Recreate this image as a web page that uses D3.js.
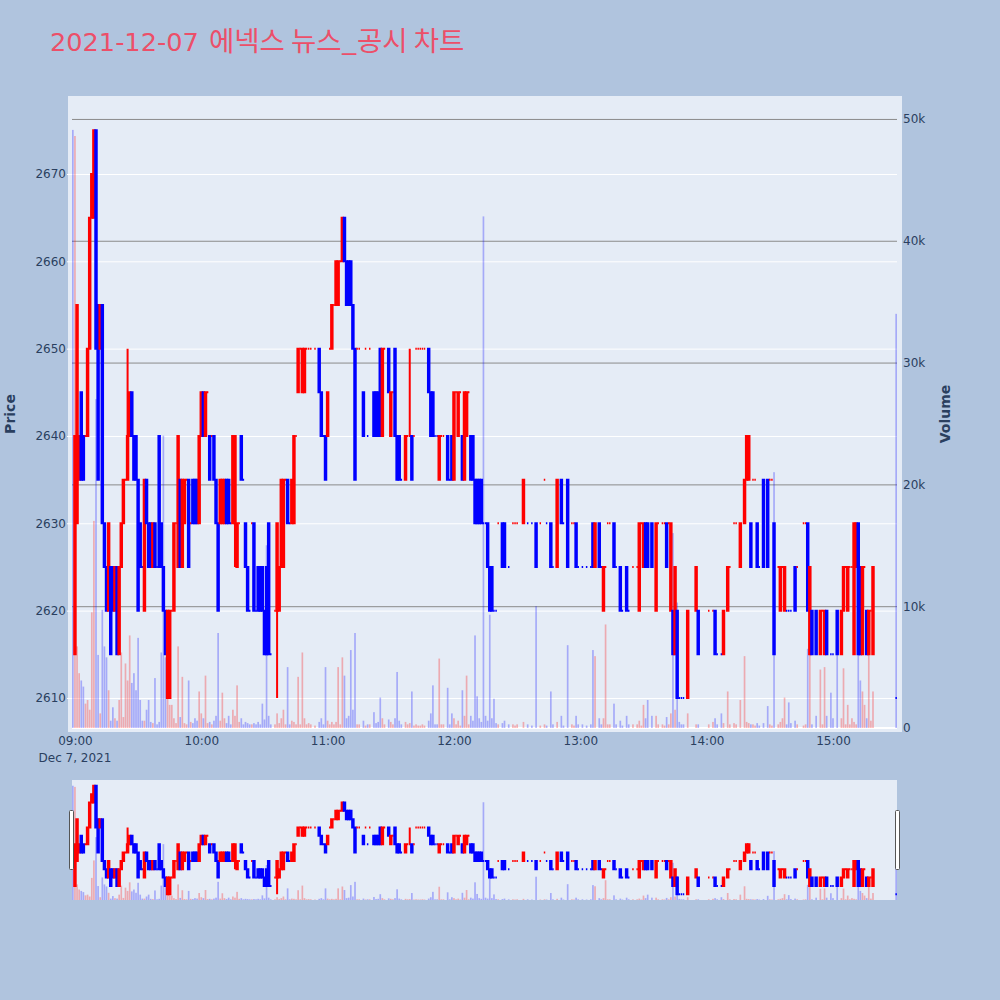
<!DOCTYPE html>
<html>
<head>
<meta charset="utf-8">
<script src="https://cdn.jsdelivr.net/npm/d3@7/dist/d3.min.js"></script>
<style>
html,body{margin:0;padding:0;background:#B0C4DE;}
svg{display:block;}
</style>
</head>
<body>
<svg id="chart" width="1000" height="1000"></svg>
<script>
// ---------------- data ----------------
const titleText = "2021-12-07 에넥스 뉴스_공시 차트";
const dateLabel = "Dec 7, 2021";
const priceTicks = [2610, 2620, 2630, 2640, 2650, 2660, 2670];
const volumeTicks = [0, 10000, 20000, 30000, 40000, 50000];
const timeTicks = ["09:00", "10:00", "11:00", "12:00", "13:00", "14:00", "15:00"];

const times = [
"08:59","09:00","09:01","09:02","09:03","09:04","09:05","09:06","09:07","09:08",
"09:09","09:10","09:11","09:12","09:13","09:14","09:15","09:16","09:17","09:18",
"09:19","09:20","09:21","09:22","09:23","09:24","09:25","09:26","09:27","09:28",
"09:29","09:30","09:31","09:32","09:33","09:34","09:35","09:36","09:37","09:38",
"09:39","09:40","09:41","09:42","09:43","09:44","09:45","09:46","09:47","09:48",
"09:49","09:50","09:51","09:52","09:53","09:54","09:55","09:56","09:57","09:58",
"09:59","10:00","10:01","10:02","10:03","10:04","10:05","10:06","10:07","10:08",
"10:09","10:10","10:11","10:12","10:13","10:14","10:15","10:16","10:17","10:18",
"10:19","10:20","10:21","10:22","10:23","10:24","10:25","10:26","10:27","10:28",
"10:29","10:30","10:31","10:32","10:33","10:35","10:36","10:37","10:38","10:39",
"10:40","10:41","10:42","10:43","10:44","10:45","10:46","10:47","10:48","10:49",
"10:50","10:51","10:52","10:54","10:56","10:57","10:58","10:59","11:00","11:01",
"11:02","11:03","11:04","11:05","11:06","11:07","11:08","11:09","11:10","11:11",
"11:12","11:13","11:14","11:15","11:17","11:18","11:19","11:20","11:22","11:23",
"11:24","11:25","11:26","11:27","11:29","11:30","11:31","11:32","11:33","11:34",
"11:35","11:37","11:38","11:39","11:40","11:41","11:42","11:43","11:44","11:45",
"11:46","11:48","11:49","11:50","11:51","11:52","11:53","11:54","11:55","11:57",
"11:58","11:59","12:00","12:01","12:02","12:03","12:04","12:05","12:06","12:07",
"12:08","12:09","12:10","12:11","12:12","12:13","12:14","12:15","12:16","12:17",
"12:18","12:19","12:20","12:21","12:23","12:24","12:26","12:28","12:29","12:30",
"12:33","12:35","12:37","12:39","12:41","12:43","12:44","12:46","12:47","12:49",
"12:51","12:52","12:54","12:56","12:57","12:58","12:59","13:01","13:03","13:05",
"13:06","13:07","13:09","13:10","13:11","13:12","13:13","13:14","13:16","13:17",
"13:19","13:20","13:22","13:23","13:25","13:27","13:28","13:29","13:30","13:31",
"13:32","13:34","13:36","13:37","13:39","13:40","13:41","13:42","13:43","13:44",
"13:45","13:46","13:47","13:48","13:49","13:51","13:55","13:56","14:01","14:03",
"14:04","14:05","14:07","14:08","14:10","14:11","14:13","14:14","14:16","14:18",
"14:19","14:20","14:21","14:22","14:23","14:24","14:25","14:27","14:29","14:30",
"14:31","14:32","14:34","14:35","14:36","14:37","14:38","14:39","14:40","14:42",
"14:43","14:46","14:47","14:48","14:49","14:50","14:52","14:54","14:55","14:56",
"14:57","14:59","15:00","15:02","15:04","15:05","15:06","15:07","15:08","15:09",
"15:10","15:11","15:12","15:13","15:14","15:15","15:16","15:17","15:18","15:19",
"15:30"];

const opens = [
null,2615,2630,2635,2645,2640,2640,2640,2650,2665,
2665,2675,2655,2650,2655,2630,2625,2620,2625,2625,
2620,2625,2615,2625,2630,2635,2635,2640,2645,2640,
2640,2635,2630,2625,2620,2635,2630,2630,2625,2630,
2625,2640,2630,2625,2620,2610,2610,2620,2620,2630,
2625,2635,2625,2630,2635,2635,2630,2635,2635,2635,
2630,2640,2645,2640,2645,2640,2640,2640,2635,2630,
2630,2630,2630,2635,2635,2630,2630,2630,2625,2630,
2640,2635,2630,2625,2620,2630,2630,2620,2625,2625,
2625,2620,2625,2630,2615,2620,2620,2620,2625,2625,
2635,2635,2630,2630,2630,2640,2645,2650,2645,2645,
2650,2650,2650,2650,2650,2645,2640,2640,2640,2650,
2650,2655,2655,2655,2660,2660,2665,2660,2660,2660,
2655,2650,2650,2650,2645,2650,2640,2650,2645,2645,
2645,2650,2640,2650,2650,2640,2645,2650,2640,2640,
2635,2635,2640,2640,2640,2640,2650,2650,2650,2650,
2650,2650,2645,2645,2640,2640,2635,2640,2640,2640,
2635,2640,2635,2645,2640,2645,2640,2635,2640,2645,
2640,2640,2635,2635,2635,2635,2630,2630,2630,2625,
2625,2620,2620,2630,2630,2630,2625,2630,2630,2630,
2630,2630,2630,2630,2630,2635,2630,2630,2625,2625,
2635,2630,2635,2630,2630,2630,2625,2625,2625,2625,
2630,2625,2630,2625,2620,2625,2630,2630,2630,2625,
2625,2620,2625,2620,2625,2625,2620,2630,2625,2630,
2630,2630,2620,2630,2630,2630,2630,2630,2620,2620,
2615,2620,2610,2610,2610,2610,2620,2620,2620,2620,
2620,2615,2615,2615,2620,2625,2630,2630,2625,2630,
2635,2635,2630,2635,2635,2630,2625,2635,2635,2635,
2635,2630,2625,2620,2625,2620,2620,2620,2620,2625,
2625,2630,2630,2630,2615,2620,2620,2615,2620,2615,
2620,2615,2615,2620,2615,2620,2625,2620,2625,2625,
2615,2625,2630,2625,2615,2625,2620,2615,2620,2615,
2610];

const closes = [
null,2640,2655,2640,2635,2635,2640,2650,2665,2670,
2675,2650,2635,2655,2630,2625,2620,2630,2615,2620,
2625,2615,2625,2630,2635,2635,2640,2645,2640,2635,
2635,2620,2625,2625,2635,2630,2625,2625,2630,2625,
2625,2625,2625,2620,2615,2620,2620,2620,2630,2630,
2640,2625,2635,2635,2635,2625,2630,2630,2630,2630,
2640,2645,2640,2645,2645,2635,2640,2635,2630,2620,
2635,2635,2635,2630,2630,2630,2640,2640,2630,2630,
2635,2635,2625,2620,2620,2630,2620,2620,2620,2620,
2620,2615,2615,2615,2615,2620,2630,2625,2635,2635,
2635,2630,2630,2635,2640,2640,2650,2650,2650,2650,
2650,2650,2650,2650,2645,2640,2640,2635,2645,2650,
2655,2655,2660,2660,2660,2665,2660,2655,2655,2655,
2650,2635,2650,2650,2640,2650,2640,2650,2640,2640,
2640,2640,2650,2650,2645,2645,2645,2640,2635,2635,
2635,2640,2640,2640,2635,2640,2650,2650,2650,2650,
2650,2645,2640,2640,2640,2640,2640,2640,2640,2635,
2635,2635,2645,2645,2645,2645,2635,2645,2645,2645,
2635,2635,2630,2630,2630,2630,2630,2630,2625,2620,
2620,2620,2620,2630,2625,2625,2625,2630,2630,2630,
2635,2630,2630,2625,2630,2635,2630,2625,2625,2635,
2630,2630,2625,2630,2630,2625,2625,2625,2625,2625,
2625,2630,2625,2625,2625,2625,2630,2630,2625,2625,
2620,2620,2620,2620,2625,2625,2630,2630,2630,2625,
2625,2625,2630,2630,2630,2630,2625,2630,2630,2615,
2625,2610,2610,2610,2610,2620,2625,2615,2620,2620,
2615,2615,2615,2620,2625,2625,2630,2630,2630,2635,
2640,2640,2625,2635,2635,2625,2625,2625,2625,2635,
2635,2615,2625,2625,2625,2625,2620,2620,2620,2620,
2625,2630,2630,2620,2625,2615,2615,2620,2620,2620,
2615,2615,2615,2615,2620,2625,2625,2625,2625,2625,
2630,2630,2615,2615,2625,2625,2615,2620,2620,2625,
2610];

// minutes whose wick reaches beyond the body
const highWicks = [["09:25", 2650], ["11:39", 2650]];
const lowWicks = [["10:16", 2625], ["10:36", 2610]];

const volumes = [
49100,48600,6700,4500,3900,3400,2000,2300,1500,9500,
17000,27000,6000,1200,9700,6700,5800,3100,600,1700,
800,600,2300,6200,900,5300,3900,7600,3700,4500,
3100,7400,2300,600,600,1500,2300,500,400,4100,
300,500,6200,24000,5800,5800,1900,1900,800,400,
6700,900,4200,400,300,3900,500,400,800,600,
3000,1200,800,4300,400,500,300,600,1000,7800,
600,2900,800,400,1000,300,1500,1000,3500,500,
800,300,500,400,300,300,400,300,500,300,
2000,700,15000,1000,300,300,1200,400,800,1500,
300,5000,300,600,500,300,4200,300,6200,800,
300,400,300,200,500,800,300,5000,600,300,
500,300,500,5000,300,5800,4300,800,1000,6400,
1500,7800,300,300,600,200,300,300,1300,400,
500,2500,800,300,700,500,300,800,4600,600,
300,500,300,400,3000,200,300,200,200,300,
200,600,1200,3500,300,300,5700,300,300,3300,
300,1200,800,300,600,200,3100,1000,4300,300,
1000,600,7600,2600,800,500,42000,1000,600,9300,
800,2400,400,300,400,600,300,300,200,300,
500,300,200,10000,200,300,200,3000,300,500,
1000,200,6800,300,200,1000,300,300,200,300,
6400,5900,800,300,800,8500,300,300,2000,300,
600,200,1000,300,300,300,600,200,1900,800,
2300,1000,1000,300,300,200,900,300,1200,16000,
1500,10300,500,300,300,1200,300,300,300,500,
800,300,1200,400,3000,300,400,300,2300,5900,
500,400,300,300,200,400,200,400,1800,300,
200,21000,300,500,800,2500,300,2100,400,600,
300,200,300,6500,6100,300,1000,4800,300,5000,
1000,2900,800,7200,800,4900,300,1900,300,800,
500,300,6100,3900,3000,1900,800,6100,600,3000,
34000];

// ---------------- build records ----------------
const toDate = s => { const [h, m] = s.split(":").map(Number); return new Date(2021, 11, 7, h, m); };
const hiMap = new Map(highWicks), loMap = new Map(lowWicks);
const data = times.map((t, i) => {
  const o = opens[i], c = closes[i];
  const has = o != null;
  return {
    t: toDate(t), o, c, v: volumes[i], has,
    h: has ? Math.max(o, c, hiMap.has(t) ? hiMap.get(t) : -Infinity) : null,
    l: has ? Math.min(o, c, loMap.has(t) ? loMap.get(t) : Infinity) : null
  };
});
// plotly-like direction: close vs open, ties resolved vs previous close
let prevC = null, prevDir = -1;
data.forEach(d => {
  if (!d.has) { d.dir = prevDir; return; }
  let dir;
  if (d.c > d.o) dir = 1;
  else if (d.c < d.o) dir = -1;
  else if (prevC == null) dir = prevDir;
  else dir = d.c > prevC ? 1 : (d.c < prevC ? -1 : prevDir);
  d.dir = dir; prevDir = dir; prevC = d.c;
});

// ---------------- layout ----------------
const FONT = "'DejaVu Sans', Verdana, sans-serif";
const KFONT = "'Noto Sans CJK KR', 'Noto Sans CJK SC', sans-serif";
const TXT = "#2a3f5f";
const UP = "#ff0000", DN = "#0000ff";
const UPV = "rgba(255,0,0,0.28)", DNV = "rgba(0,0,255,0.28)";
const L = 72, R = 897, T = 100, B = 728;
const ST = 780, SB = 900; // range slider

const svg = d3.select("#chart");
svg.append("rect").attr("width", 1000).attr("height", 1000).attr("fill", "#B0C4DE");

const x = d3.scaleTime()
  .domain([new Date(2021, 11, 7, 8, 58, 36), new Date(2021, 11, 7, 15, 30, 24)])
  .range([L, R]);
const yP = d3.scaleLinear().domain([2606.56, 2678.47]).range([B, T]);
const yV = d3.scaleLinear().domain([0, 51555]).range([B, T]);
const yPs = d3.scaleLinear().domain(yP.domain()).range([SB, ST]);
const yVs = d3.scaleLinear().domain(yV.domain()).range([SB, ST]);

const minPx = x(new Date(2021, 11, 7, 10, 1)) - x(new Date(2021, 11, 7, 10, 0));
const barW = minPx * 0.8;
const boxHalf = minPx * 0.35;

// plot background frame
svg.append("rect").attr("x", 68).attr("y", 96).attr("width", 834).attr("height", 636).attr("fill", "#E5ECF6");

const defs = svg.append("defs");
defs.append("clipPath").attr("id", "clipMain").append("rect")
  .attr("x", L).attr("y", T).attr("width", R - L).attr("height", B - T);
defs.append("clipPath").attr("id", "clipSlider").append("rect")
  .attr("x", L).attr("y", ST).attr("width", R - L).attr("height", SB - ST);

// price gridlines (white)
svg.append("g").attr("transform", `translate(${L},0)`)
  .call(d3.axisLeft(yP).tickValues(priceTicks).tickSize(-(R - L) - 5).tickFormat(""))
  .call(g => g.select(".domain").remove())
  .call(g => g.selectAll("line").attr("stroke", "#ffffff").attr("stroke-width", 1).attr("transform", "translate(-5,0)"));

// volume gridlines (gray)
svg.append("g").attr("transform", `translate(${R},0)`)
  .call(d3.axisRight(yV).tickValues(volumeTicks.filter(v => v > 0)).tickSize(-(R - L)).tickFormat(""))
  .call(g => g.select(".domain").remove())
  .call(g => g.selectAll("line").attr("stroke", "#8a8a8a").attr("stroke-width", 1));
// volume zero line
svg.append("line").attr("x1", L).attr("x2", R).attr("y1", yV(0)).attr("y2", yV(0))
  .attr("stroke", "#ffffff").attr("stroke-width", 2);

function candlePath(d, ys) {
  const cx = x(d.t);
  const yo = ys(d.o), yc = ys(d.c);
  const top = Math.min(yo, yc), bot = Math.max(yo, yc);
  return `M${cx - boxHalf},${top}H${cx + boxHalf}V${bot}H${cx - boxHalf}Z` +
         `M${cx},${top}V${ys(d.h)}M${cx},${bot}V${ys(d.l)}`;
}

function drawSeries(g, ys, yv, base) {
  g.append("g").selectAll("rect").data(data).join("rect")
    .attr("x", d => x(d.t) - barW / 2)
    .attr("width", barW)
    .attr("y", d => yv(d.v))
    .attr("height", d => base - yv(d.v))
    .attr("fill", d => d.dir > 0 ? UPV : DNV);
  g.append("g").selectAll("path").data(data.filter(d => d.has)).join("path")
    .attr("d", d => candlePath(d, ys))
    .attr("stroke", d => d.dir > 0 ? UP : DN)
    .attr("stroke-width", 2)
    .attr("fill", d => d.dir > 0 ? "rgba(255,0,0,0.5)" : "rgba(0,0,255,0.5)");
}

drawSeries(svg.append("g").attr("clip-path", "url(#clipMain)"), yP, yV, yV(0));

// axes labels
const yAxisL = svg.append("g").attr("transform", `translate(${L},0)`)
  .call(d3.axisLeft(yP).tickValues(priceTicks).tickSize(0).tickPadding(6).tickFormat(d3.format("d")));
yAxisL.select(".domain").remove();
yAxisL.selectAll("text").attr("font-family", FONT).attr("font-size", 12).attr("fill", TXT);

const yAxisR = svg.append("g").attr("transform", `translate(${R},0)`)
  .call(d3.axisRight(yV).tickValues(volumeTicks).tickSize(0).tickPadding(6)
    .tickFormat(v => v === 0 ? "0" : (v / 1000) + "k"));
yAxisR.select(".domain").remove();
yAxisR.selectAll("text").attr("font-family", FONT).attr("font-size", 12).attr("fill", TXT);

const xAxis = svg.append("g").attr("transform", `translate(0,${B})`)
  .call(d3.axisBottom(x).tickValues(timeTicks.map(toDate)).tickSize(0).tickPadding(8)
    .tickFormat(d3.timeFormat("%H:%M")));
xAxis.select(".domain").remove();
xAxis.selectAll("text").attr("font-family", FONT).attr("font-size", 12).attr("fill", TXT);

svg.append("text").attr("x", x(toDate(timeTicks[0]))).attr("y", 762)
  .attr("text-anchor", "middle").attr("font-family", FONT).attr("font-size", 12).attr("fill", TXT)
  .text(dateLabel);

// axis titles
svg.append("text").attr("transform", "translate(10,414) rotate(-90)")
  .attr("text-anchor", "middle").attr("dominant-baseline", "central")
  .attr("font-family", FONT).attr("font-size", 14)
  .attr("font-weight", "bold").attr("fill", TXT).text("Price");
svg.append("text").attr("transform", "translate(945,414) rotate(-90)")
  .attr("text-anchor", "middle").attr("dominant-baseline", "central")
  .attr("font-family", FONT).attr("font-size", 14)
  .attr("font-weight", "bold").attr("fill", TXT).text("Volume");

// title: latin part in DejaVu, Hangul part in Noto Sans CJK KR
const cut = titleText.indexOf(" ") + 1;
const title = svg.append("text").attr("x", 50).attr("y", 51)
  .attr("font-size", 25.6).attr("fill", "#ec4f69");
title.append("tspan").attr("font-family", FONT).text(titleText.slice(0, cut));
title.append("tspan").attr("font-family", KFONT).attr("font-size", 27.5).attr("dx", 2)
  .text(titleText.slice(cut));

// range slider
svg.append("rect").attr("x", L).attr("y", ST).attr("width", R - L).attr("height", SB - ST).attr("fill", "#E5ECF6");
drawSeries(svg.append("g").attr("clip-path", "url(#clipSlider)"), yPs, yVs, SB);
[L - 2.5, R - 1.5].forEach(hx => {
  svg.append("rect").attr("x", hx).attr("y", ST + 30.5).attr("width", 4).attr("height", 59)
    .attr("rx", 1).attr("fill", "#ffffff").attr("stroke", "#555").attr("stroke-width", 1);
});
</script>
</body>
</html>
